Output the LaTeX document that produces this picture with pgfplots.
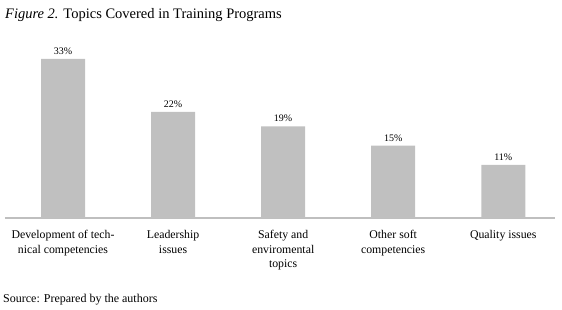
\documentclass[border=0pt]{standalone}
\usepackage{pgfplots}
\pgfplotsset{compat=1.18}
\usepackage{fontspec}
\setmainfont{Liberation Serif}
\definecolor{barg}{HTML}{C0C0C0}
\definecolor{axg}{HTML}{BFBFBF}
\begin{document}
\begin{tikzpicture}
\begin{axis}[
  name=ax, anchor=south west, at={(0,0)},
  scale only axis, width=550pt, height=168.7pt,
  xmin=-0.527, xmax=4.47, ymin=0, ymax=35,
  axis x line=bottom, axis y line=none,
  axis line style={axg, line width=1.3pt, -},
  xtick={0,1,2,3,4}, major tick length=0pt,
  xticklabels={{Development of tech-\\nical competencies},{Leadership\\issues},{Safety and\\enviromental\\topics},{Other soft\\competencies},{Quality issues}},
  xticklabel style={align=center, font=\fontsize{11.8}{14.5}\selectfont, yshift=-9pt},
  ybar, bar width=44pt,
  nodes near coords={\pgfmathprintnumber{\pgfplotspointmeta}\%},
  nodes near coords style={font=\fontsize{10}{11}\selectfont, yshift=1pt},
  /pgf/number format/assume math mode=true,
  clip=false,
]
\addplot[fill=barg, draw=none] coordinates {(0,33) (1,22) (2,19) (3,15) (4,11)};
\end{axis}
\path[use as bounding box] ([shift={(-5pt,-91pt)}]ax.south west) rectangle ++(562pt,309pt);
\node[anchor=base west, inner sep=0pt, font=\fontsize{14.5}{16}\selectfont] at ([shift={(0pt,200pt)}]ax.south west) {\textit{Figure 2.} Topics Covered in Training Programs};
\node[anchor=base west, inner sep=0pt, font=\fontsize{12}{13}\selectfont] at ([shift={(-2pt,-84pt)}]ax.south west) {Source: Prepared by the authors};
\end{tikzpicture}
\end{document}
